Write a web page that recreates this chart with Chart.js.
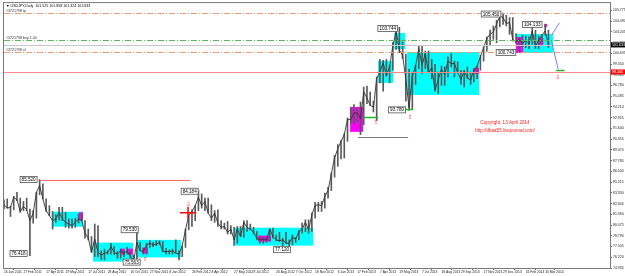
<!DOCTYPE html>
<html><head><meta charset="utf-8">
<script src="https://cdn.jsdelivr.net/npm/chart.js@4/dist/chart.umd.min.js"></script>
<style>html,body{margin:0;padding:0;background:#fff;}#wrap{width:625px;height:276px;}</style>
</head><body><div id="wrap"><canvas id="c" width="625" height="276"></canvas></div>
<script>
// ---- data (weekly bars, week 0 = 16 Jan 2011) ----
const startWeek = '2011-01-16';
const weekCount = 188;
const highs = [83.1,83.2,82.3,83.5,84.0,83.3,82.9,83.3,82.0,81.8,84.0,85.52,85.0,83.2,82.4,81.7,81.3,82.2,82.2,81.6,80.8,80.8,80.9,81.4,81.5,80.6,79.6,78.7,80.2,80.0,77.0,77.2,77.0,77.9,77.5,76.9,77.2,77.0,77.4,77.0,76.5,79.53,78.0,77.3,77.9,78.2,78.0,78.2,78.2,78.1,77.3,77.1,77.2,78.3,77.0,77.6,79.6,81.2,81.9,82.4,84.18,83.8,83.3,83.3,82.5,81.8,81.9,80.6,80.3,80.5,80.0,79.8,79.9,79.9,80.6,80.6,80.2,79.8,79.3,78.7,78.6,78.6,79.6,79.7,78.9,79.2,78.5,79.2,78.3,78.9,78.6,79.4,80.3,80.7,80.7,81.5,82.8,82.8,82.9,83.9,84.6,86.3,88.4,89.7,90.2,91.0,92.9,94.1,94.5,94.1,94.8,96.6,96.7,96.0,94.9,97.8,99.9,99.8,99.9,99.2,101.9,103.3,103.74,102.0,100.5,98.7,98.3,99.2,101.5,101.5,100.9,100.9,99.9,99.3,98.4,99.1,99.0,100.2,100.6,99.7,99.6,98.6,98.6,99.0,98.4,98.8,99.1,100.4,101.4,102.6,103.4,103.9,104.6,105.4,105.45,105.2,104.9,104.9,103.0,102.5,102.8,102.7,102.6,103.8,103.4,102.7,102.9,104.13,103.4];
const lows = [82.0,82.1,81.1,81.9,83.0,81.6,81.8,81.8,76.42,80.3,80.9,83.7,83.2,81.7,81.2,79.6,80.4,80.7,80.6,79.8,79.7,79.7,79.8,80.3,80.6,78.5,78.3,76.8,76.3,76.3,75.95,75.9,76.6,76.6,76.5,76.1,76.1,76.3,76.6,76.2,75.7,75.56,77.0,76.6,76.6,77.4,77.5,77.6,77.7,76.9,76.6,76.6,76.6,76.7,75.9,76.3,77.4,79.5,79.9,80.6,81.8,82.1,81.8,81.5,80.6,80.4,79.9,79.6,79.6,79.0,79.0,77.65,77.9,78.7,78.6,79.3,79.5,79.0,78.3,77.9,77.9,78.0,78.2,78.5,78.2,78.1,77.12,77.9,77.3,77.7,78.0,78.3,79.1,79.3,79.1,79.3,80.9,81.7,81.7,82.1,83.3,84.2,85.8,87.1,88.0,88.1,90.1,92.2,92.2,92.4,90.9,92.1,94.6,94.4,93.6,92.6,97.1,96.1,97.9,97.1,98.6,101.1,100.7,100.0,94.9,93.79,93.9,96.9,98.8,98.2,98.8,98.3,97.6,96.1,95.8,96.8,96.8,97.8,99.0,97.8,98.3,96.9,96.6,97.6,96.9,97.2,97.6,98.6,99.7,100.9,101.6,102.3,101.9,103.8,104.1,103.9,102.9,102.1,101.8,100.74,101.4,101.3,101.2,101.7,101.2,101.2,101.8,102.8,101.32];
const closes = [82.5,82.1,82.2,83.4,83.1,81.7,82.3,81.9,80.6,81.5,84.0,84.8,83.2,81.8,81.2,80.6,80.8,81.6,80.8,80.4,80.2,80.0,80.4,80.8,80.6,79.1,78.5,76.8,78.4,76.8,76.5,76.7,76.8,77.5,76.8,76.6,77.0,76.7,77.0,76.3,75.8,78.0,77.0,76.9,77.7,77.9,77.7,77.8,78.0,76.9,76.9,76.9,77.0,76.7,76.6,77.6,79.5,81.2,81.7,82.4,83.4,82.4,82.9,81.5,80.9,81.5,80.3,79.8,79.9,79.2,79.6,78.3,79.6,78.7,80.4,79.8,79.6,79.2,78.5,78.3,78.4,78.3,79.6,78.7,78.3,78.2,78.3,77.9,77.9,78.6,78.4,79.3,79.6,80.4,79.5,81.3,82.4,82.5,82.4,83.5,84.2,86.2,88.1,89.2,90.1,90.9,92.7,92.7,93.5,93.5,92.8,96.0,95.3,94.4,94.2,97.6,98.4,99.5,98.0,99.0,101.6,103.2,101.0,100.4,97.5,94.1,97.9,99.1,101.2,99.2,100.6,98.3,98.9,96.2,97.5,98.7,98.1,99.7,99.4,99.4,98.3,97.5,98.5,97.7,97.4,98.7,99.1,100.2,101.3,102.4,102.9,103.2,104.1,105.1,104.9,104.2,104.3,102.3,102.0,102.3,101.8,102.2,101.8,103.3,101.4,102.2,102.8,103.3,101.63];
const xTickLabels = ['16 Jan 2011','27 Feb 2011','17 Apr 2011','29 May 2011','17 Jul 2011','28 Aug 2011','16 Oct 2011','27 Nov 2011','8 Jan 2012','26 Feb 2012','8 Apr 2012','27 May 2012','8 Jul 2012','26 Aug 2012','7 Oct 2012','18 Nov 2012','6 Jan 2013','17 Feb 2013','7 Apr 2013','19 May 2013','7 Jul 2013','18 Aug 2013','29 Sep 2013','17 Nov 2013','29 Dec 2013','16 Feb 2014','30 Mar 2014'];
const yTickValues = [74.935,76.220,77.505,78.790,80.075,81.360,82.645,83.930,85.215,86.500,87.785,89.070,90.355,91.640,92.925,94.210,95.495,96.780,98.065,99.350,100.635,101.920,103.205,104.490,105.775];
const yMin = 74.935, yMax = 106.64;
// zones: [fromWeek, toWeek, low, high]
const cyanBoxes = [[14.8,24.4,79.88,81.67],[27.5,39.8,75.7,77.97],[41.0,54.6,76.2,78.3],[71.3,95.4,77.61,79.76],[115.4,120.1,97.09,99.72],[120.4,123.8,101.15,103.06],[124.4,146.6,95.65,100.79],[158.0,169.4,100.67,102.94]];
const magentaBoxes = [[23.1,24.4,80.7,81.6],[35.8,37.3,76.54,77.25],[38.3,39.8,76.54,77.25],[42.6,44.4,76.66,77.37],[78.4,82.4,78.09,78.81],[106.8,110.8,91.23,94.22],[145.1,146.6,98.16,98.88],[158.0,160.2,100.67,102.58],[164.8,166.4,101.63,102.46],[166.7,167.6,103.78,104.13]];
// levels
const tpLevel = 105.45, entryLevel = 102.22, bidLevel = 101.633, slLevel = 100.743, redLevel = 98.40;
const levelNames = ['#3721798 tp', '#3721798 buy 1.00', '#3721798 sl'];
// segments [fromWeek, toWeek, price]
const redSegments = [[11.1,57.4,85.52]];
const graySegments = [[109.3,124.7,90.63]];
const greenSegments = [[110.8,115.4,93.02],[121.6,126.2,93.98],[170.4,173.0,98.64]];
const projections = [[[169.0,102.82],[171.4,104.29]],[[169.0,102.02],[171.0,98.72]]];
const crossMark = [56.8, 81.56];
const arrowMarks = [[114.8,92.3,'⇧'],[125.3,92.9,'⇧'],[170.9,97.7,'⇩'],[43.6,76.0,'⇧'],[56.9,82.5,'⇩']];
const priceLabels = [[7.6,85.52,'85.520'],[4.5,76.66,'76.418'],[38.8,79.52,'79.530'],[39.4,75.64,'75.563'],[57.3,84.12,'84.184'],[85.8,77.13,'77.120'],[118.4,103.6,'103.744'],[121.3,93.86,'93.780'],[150.3,105.33,'105.450'],[154.9,100.73,'100.743'],[163.0,104.08,'104.133']];
const copyrightLines = [[154.6,92.31,'Copyright, 13 April 2014'],[154.6,91.35,'http://dkaa55.livejournal.com/']];
const titleText = '\u25BC USDJPY,Daily  101.525 101.858 101.324 101.633';

// ---- build ----
const months = ['Jan','Feb','Mar','Apr','May','Jun','Jul','Aug','Sep','Oct','Nov','Dec'];
const weeks = [];
{ const d0 = new Date(startWeek + 'T00:00:00Z');
  for (let i = 0; i < weekCount; i++) { const d = new Date(d0.getTime() + i*7*86400000);
    weeks.push(d.getUTCDate() + ' ' + months[d.getUTCMonth()] + ' ' + d.getUTCFullYear()); } }
const tickSet = new Set(xTickLabels);
const FONT = 'Liberation Sans, Arial, sans-serif';

const overlay = {
  id: 'overlay',
  beforeDatasetsDraw(chart) {
    const {ctx, chartArea: a, scales: {x, y}} = chart;
    ctx.save(); ctx.beginPath(); ctx.rect(a.left, a.top, a.right - a.left, a.bottom - a.top); ctx.clip();
    const box = (b, c) => { const x0 = x.getPixelForValue(b[0]), x1 = x.getPixelForValue(b[1]);
      const y0 = y.getPixelForValue(b[3]), y1 = y.getPixelForValue(b[2]);
      ctx.fillStyle = c; ctx.fillRect(x0, y0, x1 - x0, y1 - y0); };
    cyanBoxes.forEach(b => box(b, '#00ffff'));
    magentaBoxes.forEach(b => box(b, '#ff00ff'));
    ctx.restore();
  },
  afterDatasetsDraw(chart) {
    const {ctx, chartArea: a, scales: {x, y}} = chart;
    ctx.save(); ctx.beginPath(); ctx.rect(a.left, a.top, a.right - a.left, a.bottom - a.top); ctx.clip();
    const hline = (v, color, dash, w) => { const py = Math.round(y.getPixelForValue(v)) + 0.5;
      ctx.strokeStyle = color; ctx.lineWidth = w; ctx.setLineDash(dash);
      ctx.beginPath(); ctx.moveTo(a.left, py); ctx.lineTo(a.right, py); ctx.stroke(); ctx.setLineDash([]); };
    hline(bidLevel, '#c8c8c8', [], 1);
    hline(tpLevel, '#ef9a78', [6,2,1,2], 1);
    hline(entryLevel, '#5cb85c', [6,2,1,2], 1);
    hline(slLevel, '#ef9a78', [6,2,1,2], 1);
    hline(redLevel, '#ff8a8a', [], 1.2);
    const seg = (s, color, w) => { const py = Math.round(y.getPixelForValue(s[2])) + 0.5;
      ctx.strokeStyle = color; ctx.lineWidth = w; ctx.beginPath();
      ctx.moveTo(x.getPixelForValue(s[0]), py); ctx.lineTo(x.getPixelForValue(s[1]), py); ctx.stroke(); };
    redSegments.forEach(s => seg(s, '#ff6666', 1));
    graySegments.forEach(s => seg(s, '#777777', 1));
    greenSegments.forEach(s => seg(s, '#22b422', 1.5));
    ctx.strokeStyle = '#7b7bff'; ctx.lineWidth = 1;
    projections.forEach(p => { ctx.beginPath(); ctx.moveTo(x.getPixelForValue(p[0][0]), y.getPixelForValue(p[0][1]));
      ctx.lineTo(x.getPixelForValue(p[1][0]), y.getPixelForValue(p[1][1])); ctx.stroke(); });
    { const cx = x.getPixelForValue(crossMark[0]), cy = y.getPixelForValue(crossMark[1]);
      ctx.strokeStyle = '#ff0000'; ctx.lineWidth = 1.5; ctx.beginPath();
      ctx.moveTo(cx - 8, cy); ctx.lineTo(cx + 8, cy); ctx.moveTo(cx, cy - 6); ctx.lineTo(cx, cy + 6); ctx.stroke(); }
    ctx.font = '6px DejaVu Sans'; ctx.textAlign = 'center'; ctx.textBaseline = 'middle';
    arrowMarks.forEach(m => { ctx.fillStyle = '#ff3030'; ctx.fillText(m[2], x.getPixelForValue(m[0]), y.getPixelForValue(m[1])); });
    ctx.font = '4.6px ' + FONT;
    priceLabels.forEach(l => { const px = x.getPixelForValue(l[0]), py = y.getPixelForValue(l[1]);
      const w = ctx.measureText(l[2]).width + 3, h = 6;
      ctx.fillStyle = '#ffffff'; ctx.fillRect(px - w/2, py - h/2, w, h);
      ctx.strokeStyle = '#555'; ctx.lineWidth = 0.8; ctx.strokeRect(px - w/2, py - h/2, w, h);
      ctx.fillStyle = '#000'; ctx.fillText(l[2], px, py + 0.3); });
    ctx.font = '4.6px ' + FONT; ctx.fillStyle = '#ff2020';
    copyrightLines.forEach(l => ctx.fillText(l[2], x.getPixelForValue(l[0]), y.getPixelForValue(l[1])));
    ctx.font = '3.6px ' + FONT; ctx.fillStyle = '#333'; ctx.textAlign = 'left'; ctx.textBaseline = 'bottom';
    ctx.fillText(levelNames[0], a.left + 2, y.getPixelForValue(tpLevel) - 0.5);
    ctx.fillText(levelNames[1], a.left + 2, y.getPixelForValue(entryLevel) - 0.5);
    ctx.fillText(levelNames[2], a.left + 2, y.getPixelForValue(slLevel) - 0.5);
    ctx.textBaseline = 'middle'; ctx.fillStyle = '#000'; ctx.font = '3.6px ' + FONT;
    ctx.fillText(titleText, a.left + 2, a.top + 3);
    ctx.restore();
  },
  afterDraw(chart) {
    const {ctx, chartArea: a, scales: {y}} = chart;
    ctx.save();
    ctx.strokeStyle = '#7a7a7a'; ctx.lineWidth = 1;
    ctx.strokeRect(a.left - 0.5, a.top - 0.5, a.right - a.left + 1, a.bottom - a.top + 1);
    const tag = (v, bg) => { const py = y.getPixelForValue(v);
      ctx.fillStyle = bg; ctx.fillRect(a.right + 1, py - 2.5, 14, 5);
      ctx.fillStyle = '#fff'; ctx.font = '3.6px ' + FONT; ctx.textAlign = 'left'; ctx.textBaseline = 'middle';
      ctx.fillText(v.toFixed(3), a.right + 2, py); };
    tag(bidLevel, '#000000');
    tag(redLevel, '#ff0000');
    ctx.restore();
  }
};

new Chart(document.getElementById('c'), {
  type: 'bar',
  data: {
    labels: weeks,
    datasets: [
      { type: 'line', data: closes, borderColor: '#333333', borderWidth: 0.9, pointRadius: 0, tension: 0, order: 1 },
      { type: 'bar', data: highs.map((h, i) => [lows[i], h]), backgroundColor: '#5a5a5a', barThickness: 1, order: 2 }
    ]
  },
  options: {
    responsive: false, animation: false, devicePixelRatio: 1,
    layout: { padding: { left: 4, top: 3, right: 0, bottom: 0 } },
    plugins: { legend: { display: false }, tooltip: { enabled: false } },
    scales: {
      x: {
        offset: false,
        afterBuildTicks: s => { s.ticks = s.ticks.filter(t => tickSet.has(weeks[t.value])); },
        afterFit: s => { s.height = 8; },
        grid: { drawOnChartArea: false, tickLength: 2, color: '#666' },
        border: { color: '#777' },
        ticks: { autoSkip: false, maxRotation: 0, minRotation: 0, align: 'start', padding: 0,
          font: { size: 3.3, family: FONT }, color: '#222' }
      },
      y: {
        position: 'right', min: yMin, max: yMax,
        afterBuildTicks: s => { s.ticks = yTickValues.map(v => ({ value: v })); },
        afterFit: s => { s.width = 15; },
        grid: { drawOnChartArea: false, tickLength: 2, color: '#666' },
        border: { color: '#777' },
        ticks: { padding: 1, font: { size: 3.5, family: FONT }, color: '#222', callback: v => Number(v).toFixed(3) }
      }
    }
  },
  plugins: [overlay]
});
</script></body></html>
